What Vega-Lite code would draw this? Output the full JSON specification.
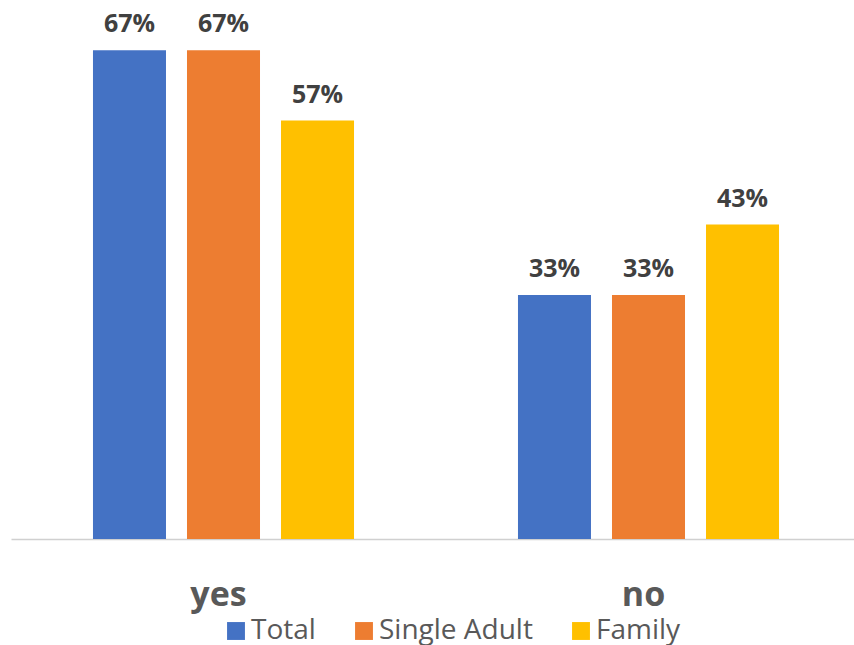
{
  "$schema": "https://vega.github.io/schema/vega-lite/v6.json",
  "width": 843,
  "height": 513,
  "autosize": {"type": "none"},
  "padding": {"left": 11, "top": 26, "right": 0, "bottom": 106},
  "background": "white",
  "config": {
    "view": {"stroke": null},
    "font": "Open Sans"
  },
  "data": {
    "values": [
      {"answer": "yes", "group": "Total", "value": 0.667},
      {"answer": "yes", "group": "Single Adult", "value": 0.667},
      {"answer": "yes", "group": "Family", "value": 0.571},
      {"answer": "no", "group": "Total", "value": 0.333},
      {"answer": "no", "group": "Single Adult", "value": 0.333},
      {"answer": "no", "group": "Family", "value": 0.429}
    ]
  },
  "encoding": {
    "x": {
      "field": "answer",
      "type": "nominal",
      "sort": ["yes", "no"],
      "scale": {"range": [0, 850], "paddingInner": 0, "paddingOuter": 0},
      "axis": {
        "title": null,
        "ticks": false,
        "labelAngle": 0,
        "labelFont": "Open Sans",
        "labelFontSize": 34,
        "labelFontWeight": "bold",
        "labelColor": "#595959",
        "labelBaseline": "alphabetic",
        "labelPadding": 66,
        "labelOffset": -5,
        "domainColor": "#d0d0d0",
        "domainWidth": 1.5
      }
    },
    "xOffset": {
      "field": "group",
      "type": "nominal",
      "sort": ["Total", "Single Adult", "Family"],
      "scale": {"paddingInner": 0.2234, "paddingOuter": 0.872}
    },
    "y": {
      "field": "value",
      "type": "quantitative",
      "scale": {"domain": [0, 0.7]},
      "axis": null
    }
  },
  "layer": [
    {
      "mark": {"type": "bar"},
      "encoding": {
        "color": {
          "field": "group",
          "type": "nominal",
          "sort": ["Total", "Single Adult", "Family"],
          "scale": {
            "domain": ["Total", "Single Adult", "Family"],
            "range": ["#4472C4", "#ED7D31", "#FFC000"]
          },
          "legend": {
            "title": null,
            "orient": "none",
            "direction": "horizontal",
            "legendX": 211,
            "legendY": 591,
            "symbolType": "square",
            "symbolSize": 320,
            "symbolStrokeWidth": 0,
            "symbolOpacity": 1,
            "labelFont": "Open Sans",
            "labelFontSize": 28,
            "labelColor": "#595959",
            "labelOffset": 1,
            "columnPadding": 34
          }
        }
      }
    },
    {
      "mark": {
        "type": "text",
        "baseline": "alphabetic",
        "dy": -18,
        "font": "Open Sans",
        "fontSize": 25,
        "fontWeight": "bold",
        "color": "#404040"
      },
      "encoding": {
        "text": {"field": "value", "type": "quantitative", "format": ".0%"}
      }
    }
  ]
}
